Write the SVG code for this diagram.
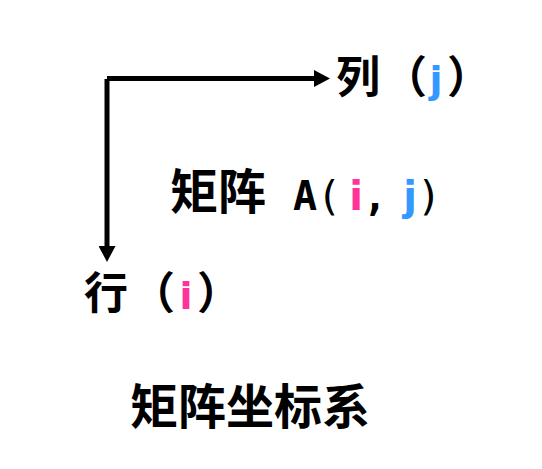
<svg xmlns="http://www.w3.org/2000/svg" width="542" height="469" viewBox="0 0 542 469">
<defs>
<style>
.cjk{font-family:"Noto Sans CJK SC","Noto Sans CJK JP",sans-serif;font-weight:700;fill:#000}
.lat{font-family:"DejaVu Sans Mono",monospace;font-weight:700;fill:#000;text-anchor:middle}
.par{font-family:"DejaVu Sans Mono",monospace;font-weight:400;fill:#000;text-anchor:middle}
.ij{font-family:"DejaVu Sans",sans-serif;font-weight:700;text-anchor:middle}
.pi{fill:#ff3399}
.bj{fill:#3399ff}
.axis{stroke:#000;stroke-width:5;fill:none}
</style>
<marker id="ah" viewBox="0 0 16 17" refX="0" refY="8.5" markerWidth="16" markerHeight="17" markerUnits="userSpaceOnUse" orient="auto">
<path d="M0,0 L16,8.5 L0,17 Z" fill="#000"/>
</marker>
</defs>
<rect width="542" height="469" fill="#fff"/>
<g id="connectors">
<line class="axis" x1="107" y1="78.5" x2="314" y2="78.5" marker-end="url(#ah)"/>
<line class="axis" x1="107" y1="79" x2="107" y2="246" marker-end="url(#ah)"/>
</g>
<g id="col-label">
<text class="cjk" x="336" y="93" font-size="44">列</text>
<text class="cjk" x="383" y="93" font-size="44">（</text>
<text class="ij bj" x="436" y="93" font-size="38">j</text>
<text class="cjk" x="447" y="93" font-size="44">）</text>
</g>
<g id="matrix-label">
<text class="cjk" x="170" y="209" font-size="48">矩阵</text>
<text class="lat" x="305" y="210" font-size="40">A</text>
<text class="par" x="329" y="210" font-size="41">(</text>
<text class="ij pi" x="356" y="210" font-size="40">i</text>
<text class="lat" x="375" y="210" font-size="40">,</text>
<text class="ij bj" x="410" y="210" font-size="40">j</text>
<text class="par" x="429" y="210" font-size="41">)</text>
</g>
<g id="row-label">
<text class="cjk" x="84" y="309" font-size="44">行</text>
<text class="cjk" x="131" y="309" font-size="44">（</text>
<text class="ij pi" x="186" y="309" font-size="38">i</text>
<text class="cjk" x="197" y="309" font-size="44">）</text>
</g>
<g id="caption">
<text class="cjk" x="130" y="424" font-size="48">矩阵坐标系</text>
</g>
</svg>
